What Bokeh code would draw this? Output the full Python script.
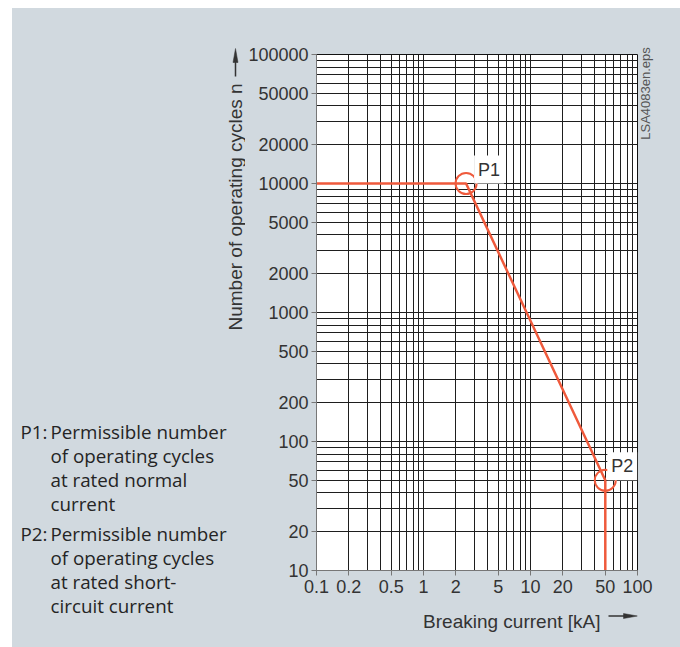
import math
from bokeh.plotting import figure
from bokeh.layouts import row, column
from bokeh.models import (FixedTicker, CustomJSTickFormatter, Label, Range1d,
                          LinearAxis)
from bokeh.core.properties import value
from bokeh.embed import file_html
from bokeh.resources import INLINE

# ---- data ----
x_major = [0.1, 0.2, 0.5, 1, 2, 5, 10, 20, 50, 100]
x_minor = [0.3, 0.4, 0.6, 0.7, 0.8, 0.9, 3, 4, 6, 7, 8, 9, 30, 40, 60, 70, 80, 90]
y_major = [10, 20, 50, 100, 200, 500, 1000, 2000, 5000, 10000, 20000, 50000, 100000]
y_minor = [30, 40, 60, 70, 80, 90, 300, 400, 600, 700, 800, 900,
           3000, 4000, 6000, 7000, 8000, 9000, 30000, 40000, 60000, 70000, 80000, 90000]

curve_x = [0.1, 2.5, 50, 50]
curve_y = [10000, 10000, 50, 10]
points_x = [2.5, 50]
points_y = [10000, 50]
point_labels = ["P1", "P2"]

note_keys = ["P1:", "P2:"]
note_texts = [
    ["Permissible number", "of operating cycles", "at rated normal", "current"],
    ["Permissible number", "of operating cycles", "at rated short-", "circuit current"],
]

x_title = "Breaking current [kA]"
y_title = "Number of operating cycles n"
file_tag = "LSA4083en.eps"

# ---- style ----
RED = "#ef5a3c"
BG = "#d1d9df"
GRID = "#1e1e1e"
TXT = "#333333"
NOTE = "#242424"
FONT = "Liberation Sans"
LABEL_OFFSETS = [(8, 14), (2, 14)]   # pixel offsets of the P1 / P2 tags

# page layout (pixels): panel starts at (12, 8)
PX0, PY0, PX1, PY1 = 12, 8, 680, 647
SPLIT_X = 245          # left notes panel | chart
SPLIT_Y = 602          # chart | x title strip
FL, FR, FT, FB = 314, 635, 54, 570   # plot frame edges

# ---- main chart ----
p = figure(x_axis_type="log", y_axis_type="log",
           x_range=Range1d(0.1, 100), y_range=Range1d(10, 100000),
           frame_width=FR - FL, frame_height=FB - FT,
           min_border_left=FL - SPLIT_X, min_border_right=PX1 - FR,
           min_border_top=FT - PY0, min_border_bottom=SPLIT_Y - FB,
           output_backend="svg", toolbar_location=None,
           background_fill_color="white", border_fill_color=BG,
           outline_line_color="#111111", outline_line_width=1)

xt = FixedTicker(ticks=x_major, minor_ticks=x_minor)
yt = FixedTicker(ticks=y_major, minor_ticks=y_minor)
p.xaxis.ticker = xt
p.xgrid.ticker = xt
p.yaxis.ticker = yt
p.ygrid.ticker = yt
fmt = CustomJSTickFormatter(code="return String(tick);")
p.xaxis.formatter = fmt
p.yaxis.formatter = fmt

for g in (p.xgrid, p.ygrid):
    g.grid_line_color = GRID
    g.grid_line_width = 1
    g.minor_grid_line_color = GRID
    g.minor_grid_line_width = 1

for ax in (p.xaxis, p.yaxis):
    ax.axis_line_color = "#777777"
    ax.major_tick_line_color = "#777777"
    ax.major_tick_out = 5
    ax.major_tick_in = 0
    ax.minor_tick_line_color = None
    ax.major_label_text_font = FONT
    ax.major_label_text_font_size = "18px"
    ax.major_label_text_color = TXT
p.xaxis.major_label_standoff = 4
p.yaxis.major_label_standoff = 3

# file tag on the right, drawn as the single label of an extra axis
FH = FB - FT
p.extra_y_ranges = {"tag": Range1d(0, FH)}
tag_axis = LinearAxis(y_range_name="tag", ticker=FixedTicker(ticks=[FH - 46.5]),
                      formatter=CustomJSTickFormatter(args=dict(t=file_tag),
                                                      code="return t;"),
                      axis_line_color=None, major_tick_line_color=None,
                      minor_tick_line_color=None, major_tick_out=0,
                      major_label_standoff=8,
                      major_label_orientation=math.pi / 2,
                      major_label_text_font=FONT,
                      major_label_text_font_size="13px",
                      major_label_text_color="#555555")
p.add_layout(tag_axis, "right")

p.line(curve_x, curve_y, line_color=RED, line_width=2.5)
p.scatter(points_x, points_y, marker="circle", size=21, fill_color=None,
          line_color=RED, line_width=2)

for px, py, t, (dx, dy) in zip(points_x, points_y, point_labels, LABEL_OFFSETS):
    p.add_layout(Label(x=px, y=py, x_offset=dx, y_offset=dy, text=t,
                       text_font=FONT, text_font_size="18px", text_color=TXT,
                       text_baseline="alphabetic",
                       background_fill_color="white", padding=4))

# ---- left panel: notes and y title (page pixel coordinates) ----
left = figure(width=SPLIT_X - PX0, height=PY1 - PY0,
              x_range=Range1d(PX0, SPLIT_X), y_range=Range1d(PY1, PY0),
              x_axis_type=None, y_axis_type=None, min_border=0,
              output_backend="svg", toolbar_location=None,
              background_fill_color=BG, border_fill_color=BG,
              outline_line_color=None)

key_x, key_y, line_x, line_y, line_t = [], [], [], [], []
for k, (key, lines) in enumerate(zip(note_keys, note_texts)):
    base = 431 + k * 102
    key_x.append(20)
    key_y.append(base)
    for i, line in enumerate(lines):
        line_x.append(50)
        line_y.append(base + 24 * i)
        line_t.append(line)
left.text(key_x, key_y, text=note_keys, text_font=value("Open Sans"),
          text_font_size="18.8px", text_color=NOTE, text_baseline="alphabetic")
left.text(line_x, line_y, text=line_t, text_font=value("Open Sans"),
          text_font_size="18.8px", text_color=NOTE, text_baseline="alphabetic")

left.text([235], [330], text=[y_title], angle=math.pi / 2,
          text_align="left", text_baseline="alphabetic",
          text_font=value(FONT), text_font_size="19px", text_color=TXT)
left.segment(x0=[235], y0=[76], x1=[235], y1=[60], line_color=TXT, line_width=1.5)
left.patch([232.5, 235, 237.5], [62, 48, 62], fill_color=TXT, line_color=TXT,
           line_width=0.5)

# ---- bottom strip: x title (page pixel coordinates) ----
bottom = figure(frame_width=FR - FL, frame_height=PY1 - SPLIT_Y,
                min_border_left=FL - SPLIT_X, min_border_right=PX1 - FR,
                min_border_top=0, min_border_bottom=0,
                x_range=Range1d(FL, FR), y_range=Range1d(PY1, SPLIT_Y),
                x_axis_type=None, y_axis_type=None,
                output_backend="svg", toolbar_location=None,
                background_fill_color=BG, border_fill_color=BG,
                outline_line_color=None)
bottom.text([598], [621], text=[x_title], text_align="right",
            text_baseline="alphabetic", text_font=value(FONT),
            text_font_size="19px", text_color=TXT)
bottom.segment(x0=[606], y0=[615.5], x1=[623], y1=[615.5], line_color=TXT,
               line_width=1.5)
bottom.patch([621, 635, 621], [613, 615.5, 618], fill_color=TXT, line_color=TXT,
             line_width=0.5)

root = row(left, column(p, bottom))
root.margin = (PY0, 0, 0, PX0)
root.styles = {"background-color": BG}

open("out.html", "w").write(file_html(root, INLINE))
